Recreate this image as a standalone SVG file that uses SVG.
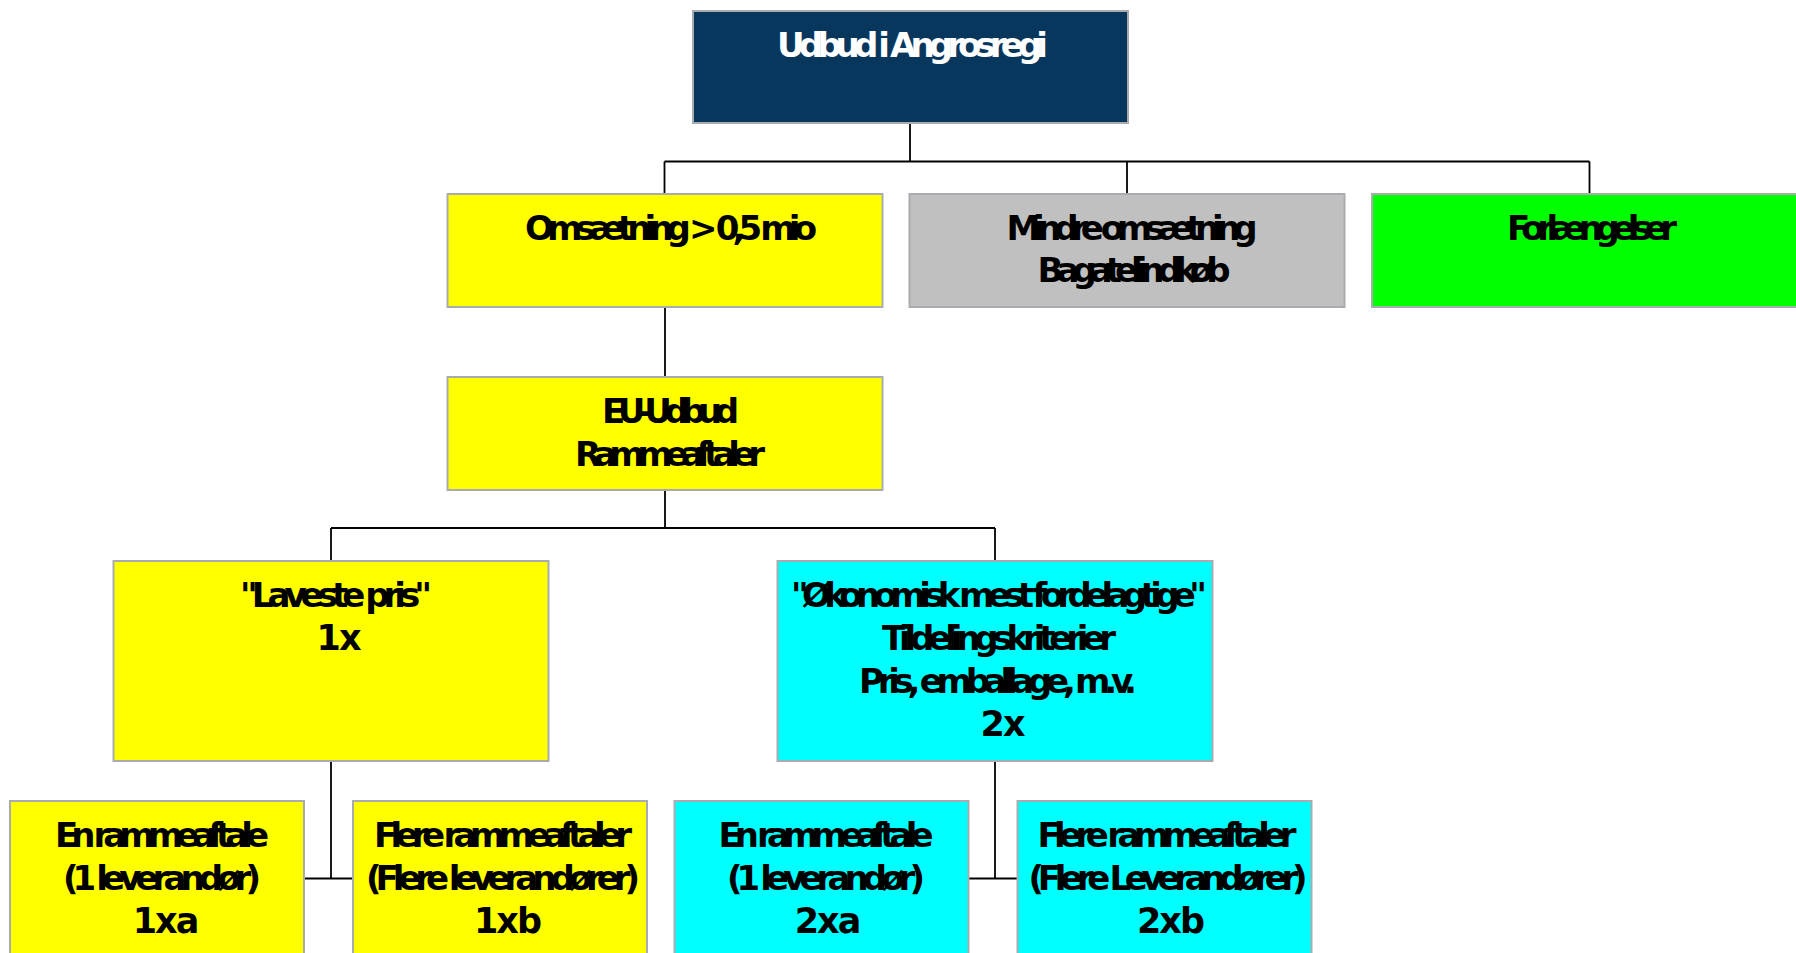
<svg xmlns="http://www.w3.org/2000/svg" width="1796" height="953" viewBox="0 0 1796 953">
<style>
.box{stroke:#A8ACB0;stroke-width:2}
.navy{fill:#08375E}
.yel{fill:#FFFF00}
.gry{fill:#C0C0C0}
.grn{fill:#00FF00}
.cyn{fill:#00FFFF}
text{font-family:"DejaVu Sans","Liberation Sans",sans-serif;font-weight:bold;font-size:34px;text-anchor:middle;fill:#000}
.wt{fill:#FFFFFF}
.sh{letter-spacing:-2px;font-size:35px}
.conn{stroke:#000;stroke-width:1.8;fill:none}
</style>
<rect width="1796" height="953" fill="#FFFFFF"/>
<g id="connectors" class="conn">
<path d="M910 123V161.5M664.5 161.5H1589.5M664.5 161.5V194M1127 161.5V194M1589.5 161.5V194"/>
<path d="M665 307V377"/>
<path d="M665 490V528M331 528H995M331 528V561M995 528V561"/>
<path d="M331 761V878.5M304 878.5H353"/>
<path d="M995 761V878.5M968.5 878.5H1017.5"/>
</g>
<g id="n-top">
<rect class="box navy" x="693" y="11" width="435" height="112"/>
<text class="wt" x="912.5" y="57" textLength="271" lengthAdjust="spacing">Udbud i Angrosregi</text>
</g>
<g id="n-omsaetning">
<rect class="box yel" x="447.5" y="194" width="435" height="113"/>
<text x="671" y="240" textLength="292" lengthAdjust="spacing">Omsætning &gt; 0,5 mio</text>
</g>
<g id="n-mindre">
<rect class="box gry" x="909.5" y="194" width="435" height="113"/>
<text x="1132" y="240" textLength="251" lengthAdjust="spacing">Mindre omsætning</text>
<text x="1134" y="282" textLength="193" lengthAdjust="spacing">Bagatelindkøb</text>
</g>
<g id="n-forlaengelser">
<rect class="box grn" x="1372" y="194" width="435" height="113"/>
<text x="1592" y="240" textLength="170" lengthAdjust="spacing">Forlængelser</text>
</g>
<g id="n-eu">
<rect class="box yel" x="447.5" y="377" width="435" height="113"/>
<text x="670.5" y="423" textLength="137" lengthAdjust="spacing">EU-Udbud</text>
<text x="670" y="466" textLength="190" lengthAdjust="spacing">Rammeaftaler</text>
</g>
<g id="n-laveste">
<rect class="box yel" x="113.5" y="561" width="435" height="200"/>
<text x="336" y="607" textLength="192" lengthAdjust="spacing">"Laveste pris"</text>
<text class="sh" x="338" y="650">1x</text>
</g>
<g id="n-okonomisk">
<rect class="box cyn" x="777.5" y="561" width="435" height="200"/>
<text x="999" y="607" textLength="416" lengthAdjust="spacing">"Økonomisk mest fordelagtige"</text>
<text x="999" y="650" textLength="234" lengthAdjust="spacing">Tildelingskriterier</text>
<text x="998" y="693" textLength="278" lengthAdjust="spacing">Pris, emballage, m.v.</text>
<text class="sh" x="1002" y="736">2x</text>
</g>
<g id="n-1xa">
<rect class="box yel" x="10" y="801" width="294" height="160"/>
<text x="162" y="847" textLength="214" lengthAdjust="spacing">En rammeaftale</text>
<text x="162" y="890" textLength="198" lengthAdjust="spacing">(1 leverandør)</text>
<text class="sh" x="165" y="933">1xa</text>
</g>
<g id="n-1xb">
<rect class="box yel" x="353" y="801" width="294" height="160"/>
<text x="503" y="847" textLength="258" lengthAdjust="spacing">Flere rammeaftaler</text>
<text x="503" y="890" textLength="274" lengthAdjust="spacing">(Flere leverandører)</text>
<text class="sh" x="507" y="933">1xb</text>
</g>
<g id="n-2xa">
<rect class="box cyn" x="674.5" y="801" width="294" height="160"/>
<text x="826" y="847" textLength="215" lengthAdjust="spacing">En rammeaftale</text>
<text x="826" y="890" textLength="198" lengthAdjust="spacing">(1 leverandør)</text>
<text class="sh" x="827" y="933">2xa</text>
</g>
<g id="n-2xb">
<rect class="box cyn" x="1017.5" y="801" width="294" height="160"/>
<text x="1167" y="847" textLength="259" lengthAdjust="spacing">Flere rammeaftaler</text>
<text x="1168" y="890" textLength="279" lengthAdjust="spacing">(Flere Leverandører)</text>
<text class="sh" x="1170" y="933">2xb</text>
</g>
</svg>
